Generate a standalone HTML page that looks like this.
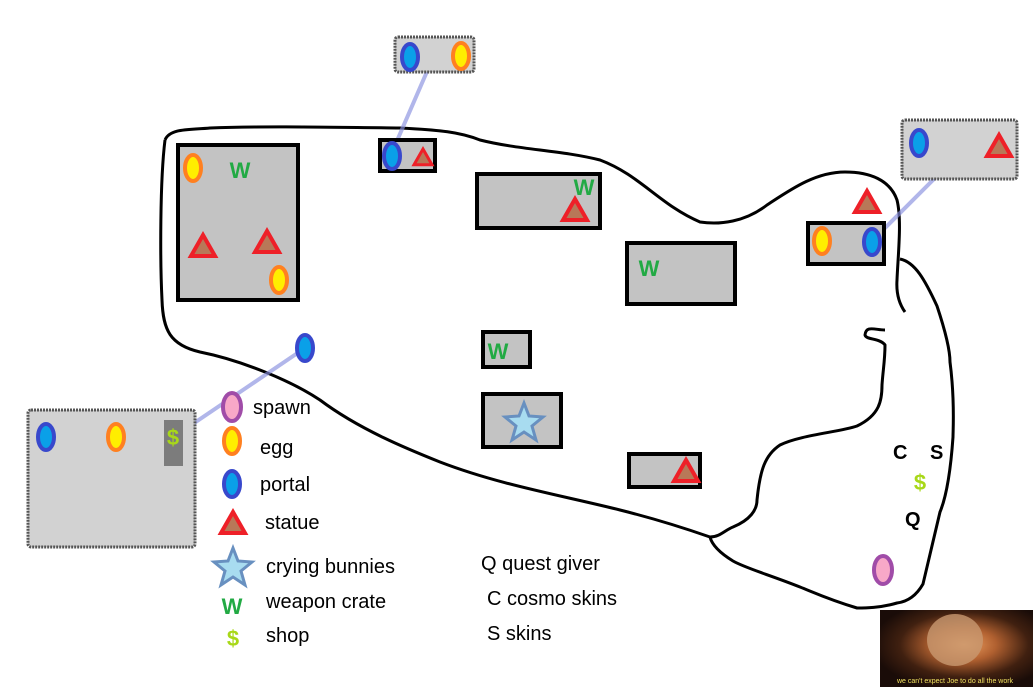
<!DOCTYPE html>
<html><head><style>
html,body{margin:0;padding:0;background:#fff;width:1033px;height:687px;overflow:hidden}
svg{display:block}
text{font-family:"Comic Sans MS","Liberation Sans",sans-serif}
</style></head><body>
<svg width="1033" height="687" viewBox="0 0 1033 687" xmlns="http://www.w3.org/2000/svg">
<defs>
<g id="egg"><ellipse cx="0" cy="0" rx="8" ry="13" fill="#ffee00" stroke="#ff8020" stroke-width="4"/></g>
<g id="portal"><ellipse cx="0" cy="0" rx="8" ry="13" fill="#0aa0e8" stroke="#3848cc" stroke-width="4"/></g>
<g id="spawn"><ellipse cx="0" cy="0" rx="9" ry="14" fill="#f8a8c8" stroke="#a04ca8" stroke-width="4"/></g>
<g id="tri"><polygon points="0,-12 12,9 -12,9" fill="#b87858" stroke="#ee2028" stroke-width="4" stroke-linejoin="miter"/></g>
</defs>
<!-- main outline -->
<path d="M165,140 C170,128 190,130 210,128 C260,126 320,127 400,128 C440,130 460,132 480,140 C520,150 560,150 600,160 C640,175 660,205 700,222 C720,225 745,222 767,205 C790,190 815,172 845,172 C870,172 890,180 897,200 C902,220 898,255 897,280 C896,295 900,305 905,312" fill="none" stroke="#000" stroke-width="3"/>
<path d="M165,140 C160,180 160,260 162,300 C163,330 170,345 200,352 C240,360 290,380 320,400 C360,430 410,450 440,462 C500,485 560,495 620,510 C660,520 690,530 710,537 C720,537 725,530 733,527 C750,520 757,510 757,500 C760,470 765,455 780,445 C800,435 840,432 857,426 C880,415 882,400 882,385 C883,370 885,360 885,345 C880,338 866,340 865,335 C866,325 875,330 885,330" fill="none" stroke="#000" stroke-width="3"/>
<path d="M900,259 C915,262 925,280 937,306 C945,330 950,350 950,362 C955,400 953,430 953,437 C950,480 945,500 940,512 C932,545 925,575 923,584 C915,598 905,602 897,603 C880,608 865,608 857,608 C830,600 815,593 800,587 C770,575 745,568 733,561 C720,553 712,545 710,537" fill="none" stroke="#000" stroke-width="3"/>

<!-- connector lines -->
<g stroke="#8890e0" stroke-width="4" opacity="0.65" stroke-linecap="round">
<line x1="432" y1="60" x2="393" y2="150"/>
<line x1="963" y1="150" x2="873" y2="240"/>
<line x1="110" y1="480" x2="305" y2="348"/>
</g>

<!-- textured boxes -->
<g fill="#d2d2d2" stroke="#555" stroke-width="3" stroke-dasharray="2,1">
<rect x="395" y="37" width="79" height="35" rx="3"/>
<rect x="902" y="120" width="115" height="59" rx="3"/>
<rect x="28" y="410" width="167" height="137" rx="3"/>
</g>
<rect x="164" y="420" width="19" height="46" fill="#7c7c7c"/>
<text x="173" y="445" font-size="22" fill="#a8d818" text-anchor="middle" font-weight="bold">$</text>
<use href="#portal" x="410" y="57"/><use href="#egg" x="461" y="56"/>
<use href="#portal" x="919" y="143"/><use href="#tri" x="999" y="147"/>
<use href="#portal" x="46" y="437"/><use href="#egg" x="116" y="437"/>
<use href="#portal" x="305" y="348"/>

<!-- black boxes -->
<g fill="#c3c3c3" stroke="#000" stroke-width="4">
<rect x="380" y="140" width="55" height="31"/>
<rect x="178" y="145" width="120" height="155"/>
<rect x="477" y="174" width="123" height="54"/>
<rect x="627" y="243" width="108" height="61"/>
<rect x="483" y="332" width="47" height="35"/>
<rect x="483" y="394" width="78" height="53"/>
<rect x="629" y="454" width="71" height="33"/>
<rect x="808" y="223" width="76" height="41"/>
</g>
<use href="#portal" x="392" y="156"/>
<g transform="translate(423,158) scale(0.75)"><use href="#tri"/></g>
<use href="#egg" x="193" y="168"/>
<use href="#tri" x="203" y="247"/><use href="#tri" x="267" y="243"/>
<use href="#egg" x="279" y="280"/>
<use href="#tri" x="575" y="211"/>
<use href="#tri" x="686" y="472"/>
<use href="#egg" x="822" y="241"/>
<use href="#portal" x="872" y="242"/>
<use href="#tri" x="867" y="203"/>
<g font-size="22" fill="#22aa44" font-weight="bold" text-anchor="middle">
<text x="240" y="178">W</text>
<text x="584" y="195">W</text>
<text x="649" y="276">W</text>
<text x="498" y="359">W</text>
</g>
<polygon points="524,403 529,416 543,417 532,426 536,440 524,432 512,440 516,426 505,417 519,416" fill="#a8dcf0" stroke="#6890c0" stroke-width="3"/>

<!-- legend -->
<use href="#spawn" x="232" y="407"/>
<use href="#egg" x="232" y="441"/>
<use href="#portal" x="232" y="484"/>
<use href="#tri" x="233" y="524"/>
<polygon points="233,548 238,561 252,562 241,571 245,585 233,577 221,585 225,571 214,562 228,561" fill="#a8dcf0" stroke="#6890c0" stroke-width="3"/>
<text x="232" y="614" font-size="22" fill="#22aa44" font-weight="bold" text-anchor="middle">W</text>
<text x="233" y="646" font-size="22" fill="#a8d818" font-weight="bold" text-anchor="middle">$</text>
<g font-size="20" fill="#000">
<text x="253" y="414">spawn</text>
<text x="260" y="454">egg</text>
<text x="260" y="491">portal</text>
<text x="265" y="529">statue</text>
<text x="266" y="573">crying bunnies</text>
<text x="266" y="608">weapon crate</text>
<text x="266" y="642">shop</text>
<text x="481" y="570">Q quest giver</text>
<text x="487" y="605">C cosmo skins</text>
<text x="487" y="640">S skins</text>
</g>
<g font-size="20" fill="#000" font-weight="bold">
<text x="893" y="459">C</text>
<text x="930" y="459">S</text>
<text x="905" y="526">Q</text>
</g>
<text x="920" y="490" font-size="22" fill="#a8d818" font-weight="bold" text-anchor="middle">$</text>
<use href="#spawn" x="883" y="570"/>

<!-- image -->
<defs>
<radialGradient id="mg" cx="0.55" cy="0.45" r="0.6">
<stop offset="0" stop-color="#f0a060"/><stop offset="0.35" stop-color="#b06030"/><stop offset="0.7" stop-color="#402010"/><stop offset="1" stop-color="#1a0c08"/>
</radialGradient>
</defs>
<rect x="880" y="610" width="153" height="77" fill="url(#mg)"/>
<ellipse cx="955" cy="640" rx="28" ry="26" fill="#c89870" opacity="0.8"/>
<text x="955" y="683" font-size="7" fill="#f0e060" text-anchor="middle">we can't expect Joe to do all the work</text>
</svg>
</body></html>
